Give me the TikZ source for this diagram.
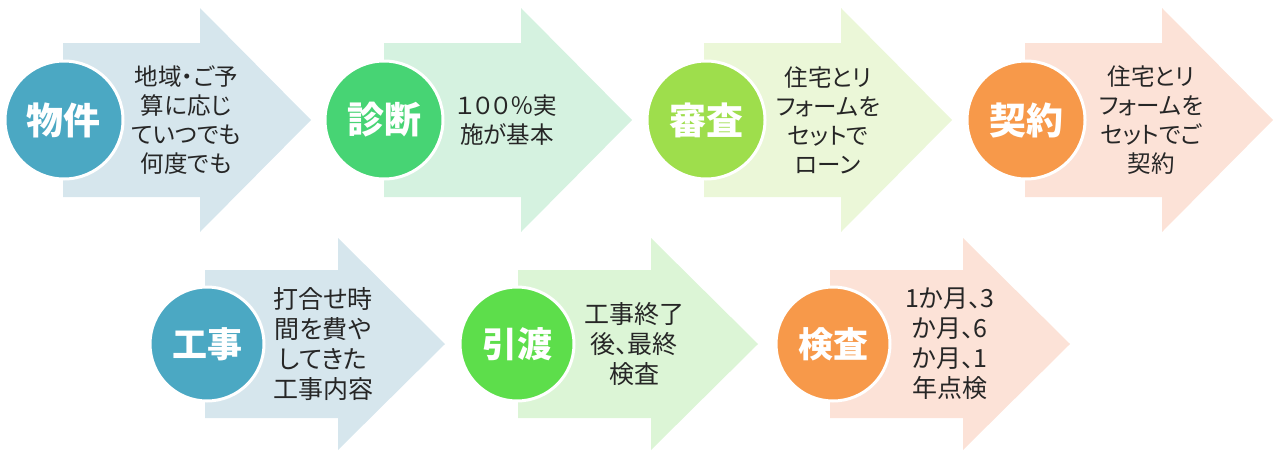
\documentclass[tikz,border=0pt]{standalone}
\usepackage{fontspec}
\usepackage{xcolor}
\newfontfamily\jpfont[RawFeature=+palt]{Noto Sans CJK JP}
\usetikzlibrary{positioning}
\definecolor{stepblue}{HTML}{4BA8C3}
\definecolor{paleblue}{HTML}{D6E6ED}
\definecolor{stepgreen}{HTML}{47D474}
\definecolor{palegreen}{HTML}{D5F2E0}
\definecolor{steplime}{HTML}{9EDE4C}
\definecolor{palelime}{HTML}{EBF7D8}
\definecolor{steporange}{HTML}{F7994A}
\definecolor{palepink}{HTML}{FCE2D7}
\definecolor{stepleaf}{HTML}{5DDE4B}
\definecolor{paleleaf}{HTML}{DCF5D6}

\begin{document}
\begin{tikzpicture}[
  x=1pt, y=-1pt,
  font=\jpfont,
  circ/.style={circle, draw=white, line width=3pt, minimum size=118pt,
               inner sep=0pt, text=white, font=\jpfont\bfseries\fontsize{37}{40}\selectfont},
  circb/.style={circ, minimum size=114pt, font=\jpfont\bfseries\fontsize{35}{38}\selectfont},
  txt/.style={align=center, text=black!85, inner sep=0pt,
              font=\jpfont\fontsize{23.5}{29}\selectfont},
  txtb/.style={txt, font=\jpfont\fontsize{25}{30}\selectfont}
]
\useasboundingbox (0,0) rectangle (1280,455);

% upper row
\fill[paleblue]  (63,43)   -- ++(137,0) -- ++(0,-35) -- ++(111,112) -- ++(-111,112) -- ++(0,-35) -- ++(-137,0) -- cycle;
\fill[palegreen] (384,43)  -- ++(137,0) -- ++(0,-35) -- ++(111,112) -- ++(-111,112) -- ++(0,-35) -- ++(-137,0) -- cycle;
\fill[palelime]  (704,43)  -- ++(137,0) -- ++(0,-35) -- ++(111,112) -- ++(-111,112) -- ++(0,-35) -- ++(-137,0) -- cycle;
\fill[palepink]  (1025,43) -- ++(137,0) -- ++(0,-35) -- ++(111,112) -- ++(-111,112) -- ++(0,-35) -- ++(-137,0) -- cycle;

\node[circ, fill=stepblue]   (bukken)  at (64,120)   {物件};
\node[circ, fill=stepgreen]  (shindan) at (384,120)  {診断};
\node[circ, fill=steplime]   (shinsa)  at (706,120)  {審査};
\node[circ, fill=steporange] (keiyaku) at (1026,120) {契約};

\node[txt] (bukkentxt)  at (186,120)  {地域・ご予\\算に応じ\\ていつでも\\何度でも};
\node[txt] (shindantxt) at (507,120)  {１００％実\\施が基本};
\node[txt] (shinsatxt)  at (828,120)  {住宅とリ\\フォームを\\セットで\\ローン};
\node[txt] (keiyakutxt) at (1151,120) {住宅とリ\\フォームを\\セットでご\\契約};

% lower row
\fill[paleblue] (205,270) -- ++(133,0) -- ++(0,-32) -- ++(107,106) -- ++(-107,106) -- ++(0,-32) -- ++(-133,0) -- cycle;
\fill[paleleaf] (518,270) -- ++(133,0) -- ++(0,-32) -- ++(107,106) -- ++(-107,106) -- ++(0,-32) -- ++(-133,0) -- cycle;
\fill[palepink] (830,270) -- ++(133,0) -- ++(0,-32) -- ++(107,106) -- ++(-107,106) -- ++(0,-32) -- ++(-133,0) -- cycle;

\node[circb, fill=stepblue]   (kouji)   at (207,344) {工事};
\node[circb, fill=stepleaf]   (hikiwa)  at (517,344) {引渡};
\node[circb, fill=steporange] (kensa)   at (833,344) {検査};

\node[txtb] (koujitxt)  at (323,344) {打合せ時\\間を費や\\してきた\\工事内容};
\node[txtb] (hikiwatxt) at (634,344) {工事終了\\後、最終\\検査};
\node[txtb] (kensatxt)  at (950,344) {1か月、3\\か月、6\\か月、1\\年点検};
\end{tikzpicture}
\end{document}
